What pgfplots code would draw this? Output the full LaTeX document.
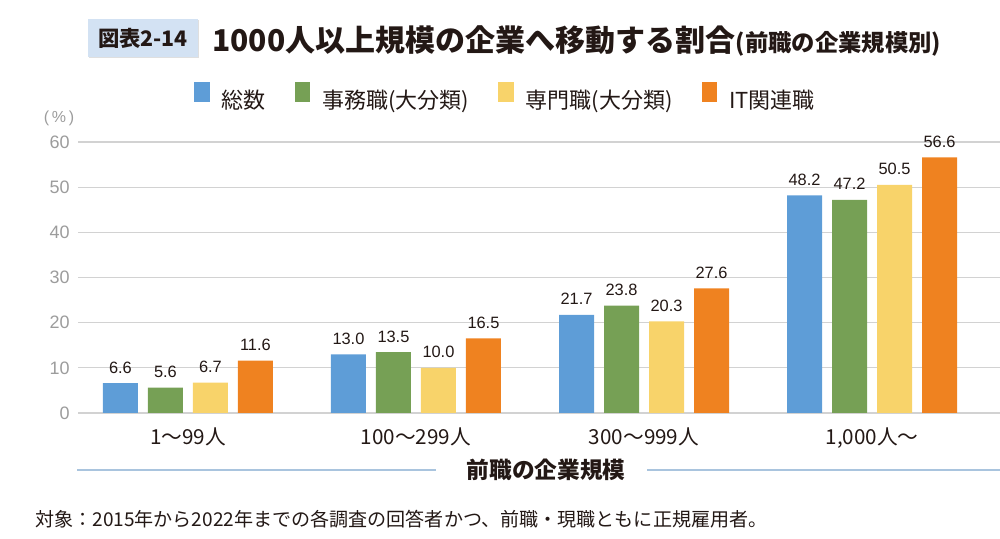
\documentclass[border=0pt]{standalone}
\usepackage{fontspec}
\usepackage{pgfplots}
\pgfplotsset{compat=1.18}
\setmainfont{Noto Sans CJK JP}
\newfontfamily\jp{Noto Sans CJK JP}
\newfontfamily\arial{Liberation Sans}
\definecolor{cblue}{HTML}{5E9DD7}
\definecolor{cgreen}{HTML}{76A055}
\definecolor{cyellow}{HTML}{F8D36A}
\definecolor{corange}{HTML}{EF8220}
\definecolor{txt}{HTML}{231815}
\definecolor{tickgray}{HTML}{9C9C9C}
\definecolor{gridgray}{HTML}{D2D2D2}
\definecolor{boxblue}{HTML}{D3E2F3}
\definecolor{linblue}{HTML}{A9C4DE}
\begin{document}
\begin{tikzpicture}
\path[use as bounding box] (0,0) rectangle (750pt,404.25pt);
\begin{axis}[
  at={(58.5pt,94.5pt)}, anchor=south west,
  scale only axis, width=691.5pt, height=203.25pt,
  xmin=-0.482, xmax=3.561, ymin=0, ymax=60,
  ybar=7.5pt, bar width=26.25pt,
  axis line style={draw=none}, major tick length=0pt,
  ytick={0,10,...,60},
  ymajorgrids, grid style={color=gridgray, line width=0.9pt},
  xtick={0,1,2,3},
  xticklabels={1〜99人, 100〜299人, 300〜999人, {1,000人〜}},
  xticklabel style={font=\jp\fontsize{15.5}{16}\selectfont, text=txt, anchor=base, yshift=-24pt},
  yticklabel style={font=\arial\fontsize{13.5}{14}\selectfont, text=tickgray, anchor=east, inner sep=0pt, xshift=-6pt},
  /pgf/number format/assume math mode=true,
  nodes near coords={\pgfmathprintnumber[fixed,fixed zerofill,precision=1,assume math mode=true]{\pgfplotspointmeta}},
  every node near coord/.append style={font=\arial\fontsize{12.3}{13}\selectfont, text=txt, anchor=base, inner sep=0pt, yshift=7.5pt},
  clip=false,
  legend columns=4,
  legend image code/.code={\fill[#1,draw=none] (0pt,-1pt) rectangle (11.5pt,13.5pt);},
  legend style={draw=none, fill=none, at={(0.4626,1.168)}, anchor=center,
    font=\jp\fontsize{16.5}{18}\selectfont, text=txt,
    nodes={inner sep=0pt},
    /tikz/every even column/.append style={column sep=22pt},
    /tikz/every odd column/.append style={column sep=9pt}},
]
\addplot[fill=cblue, draw=none] coordinates {(0,6.6) (1,13.0) (2,21.7) (3,48.2)};
\addplot[fill=cgreen, draw=none] coordinates {(0,5.6) (1,13.5) (2,23.8) (3,47.2)};
\addplot[fill=cyellow, draw=none] coordinates {(0,6.7) (1,10.0) (2,20.3) (3,50.5)};
\addplot[fill=corange, draw=none] coordinates {(0,11.6) (1,16.5) (2,27.6) (3,56.6)};
\legend{総数, 事務職(大分類), 専門職(大分類), IT関連職}
\end{axis}
\begin{scope}[x=0.75pt,y=-0.75pt,yshift=404.25pt]
  \fill[gray!25] (89,20) rectangle (199,58);
  \fill[boxblue] (88,19) rectangle (198,57);
  \node[font=\jp\bfseries\fontsize{16}{17}\selectfont, text=txt, anchor=center] at (143,38) {図表2-14};
  \node[font=\jp\bfseries\fontsize{22.5}{24}\selectfont, text=txt, anchor=west, inner sep=0pt] (t) at (212,40) {1000人以上規模の企業へ移動する割合};
  \node[font=\jp\bfseries\fontsize{17.5}{18}\selectfont, text=txt, anchor=base west, inner sep=0pt] at (t.base east) {(前職の企業規模別)};
  \node[font=\arial\fontsize{12}{13}\selectfont, text=tickgray] at (59,118) {(\,\%\,)};
  \draw[linblue, line width=1.5pt] (77,470) -- (436,470);
  \draw[linblue, line width=1.5pt] (647,470) -- (1000,470);
  \node[font=\jp\bfseries\fontsize{17}{18}\selectfont, text=txt] at (546,470) {前職の企業規模};
  \node[font=\jp\fontsize{14.3}{15}\selectfont, text=txt, anchor=west, inner sep=0pt] at (35,519) {対象：2015年から2022年までの各調査の回答者かつ、前職・現職ともに正規雇用者。};
\end{scope}
\end{tikzpicture}
\end{document}
